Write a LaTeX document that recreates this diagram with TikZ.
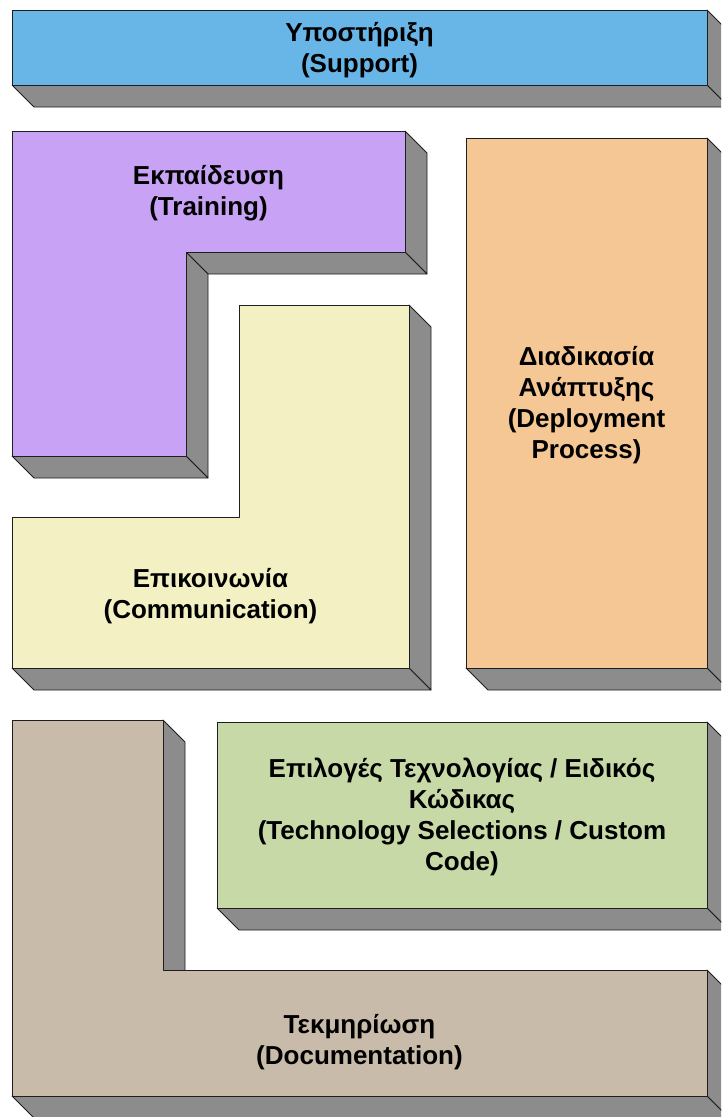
\documentclass[tikz,border=0pt]{standalone}
\usepackage{fontspec}
\setmainfont{Liberation Sans}
\definecolor{supportblue}{RGB}{104,182,232}
\definecolor{trainpurple}{RGB}{200,162,245}
\definecolor{commyellow}{RGB}{243,241,196}
\definecolor{deployorange}{RGB}{245,199,148}
\definecolor{techgreen}{RGB}{198,217,166}
\definecolor{doctan}{RGB}{201,187,169}
\definecolor{slabgray}{RGB}{140,140,140}
\definecolor{edgeline}{RGB}{30,30,30}
\tikzset{
  side/.style={fill=slabgray, draw=edgeline, line width=0.8pt, line join=round},
  face/.style={draw=edgeline, line width=0.8pt, line join=round},
  caption/.style={align=center, inner sep=0pt,
    font=\fontsize{26}{31}\selectfont\bfseries}
}
\begin{document}
\begin{tikzpicture}[x=1pt, y=-1pt]
\clip (0,0) rectangle (721,1117);
\fill[white] (0,0) rectangle (721,1117);

% Support slab
\filldraw[side] (707,10) -- (729,32) -- (729,107) -- (707,85) -- cycle;
\filldraw[side] (12,85) -- (707,85) -- (729,107) -- (34,107) -- cycle;
\filldraw[face, fill=supportblue] (12,10) rectangle (707,85);
\node[caption] (support) at (359.5,50) {Υποστήριξη\\(Support)};

% Training L-block
\filldraw[side] (405,131) -- (427,153) -- (427,274) -- (405,252) -- cycle;
\filldraw[side] (186,252) -- (405,252) -- (427,274) -- (208,274) -- cycle;
\filldraw[side] (186,252) -- (208,274) -- (208,478) -- (186,456) -- cycle;
\filldraw[side] (12,456) -- (186,456) -- (208,478) -- (34,478) -- cycle;
\filldraw[face, fill=trainpurple] (12,131) -- (405,131) -- (405,252) -- (186,252)
  -- (186,456) -- (12,456) -- cycle;
\node[caption] (training) at (208.5,193) {Εκπαίδευση\\(Training)};

% Communication L-block
\filldraw[side] (409,305) -- (431,327) -- (431,690) -- (409,668) -- cycle;
\filldraw[side] (12,668) -- (409,668) -- (431,690) -- (34,690) -- cycle;
\filldraw[face, fill=commyellow] (239,305) -- (409,305) -- (409,668) -- (12,668)
  -- (12,517) -- (239,517) -- cycle;
\node[caption] (comm) at (210.5,596) {Επικοινωνία\\(Communication)};

% Deployment process column
\filldraw[side] (707,138) -- (729,160) -- (729,690) -- (707,668) -- cycle;
\filldraw[side] (466,668) -- (707,668) -- (729,690) -- (488,690) -- cycle;
\filldraw[face, fill=deployorange] (466,138) rectangle (707,668);
\node[caption] (deploy) at (586.5,405) {Διαδικασία\\Ανάπτυξης\\(Deployment\\Process)};

% Technology selections slab
\filldraw[side] (707,722) -- (729,744) -- (729,930) -- (707,908) -- cycle;
\filldraw[side] (217,908) -- (707,908) -- (729,930) -- (239,930) -- cycle;
\filldraw[face, fill=techgreen] (217,722) rectangle (707,908);
\node[caption] (tech) at (462,817) {Επιλογές Τεχνολογίας / Ειδικός\\Κώδικας\\(Technology Selections / Custom\\Code)};

% Documentation L-block
\filldraw[side] (163,720) -- (185,742) -- (185,992) -- (163,970) -- cycle;
\filldraw[side] (707,970) -- (729,992) -- (729,1118) -- (707,1096) -- cycle;
\filldraw[side] (12,1096) -- (707,1096) -- (729,1118) -- (34,1118) -- cycle;
\filldraw[face, fill=doctan] (12,720) -- (163,720) -- (163,970) -- (707,970)
  -- (707,1096) -- (12,1096) -- cycle;
\node[caption] (doc) at (359.5,1042) {Τεκμηρίωση\\(Documentation)};
\end{tikzpicture}
\end{document}
